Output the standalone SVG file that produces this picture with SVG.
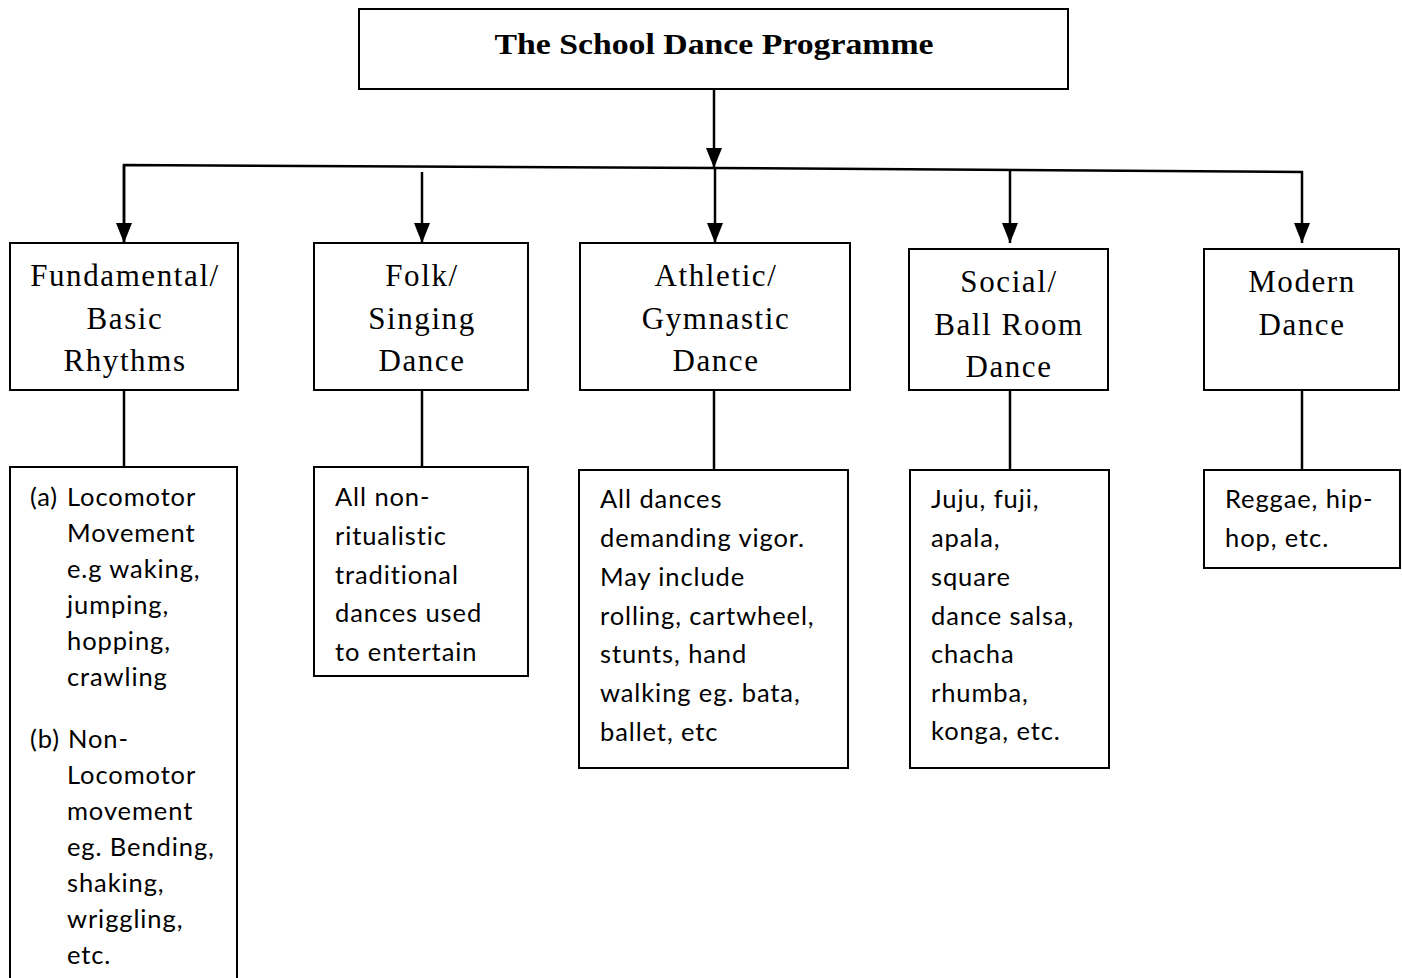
<svg xmlns="http://www.w3.org/2000/svg" width="1402" height="978" viewBox="0 0 1402 978">
<style>
.box{fill:#fff;stroke:#000;stroke-width:2}
.h{font-family:"Liberation Serif",serif;font-size:31px;letter-spacing:1.6px;text-anchor:middle;fill:#000}
.t{font-family:"Lato","Liberation Sans",sans-serif;font-size:25.5px;letter-spacing:0.9px;fill:#000}
.c{stroke:#000;stroke-width:2.5;fill:none}
</style>
<defs>
<marker id="a" viewBox="0 0 20 16" refX="20" refY="8" markerWidth="20" markerHeight="16" markerUnits="userSpaceOnUse" orient="auto">
<path d="M0,0 L20,8 L0,16 Z" fill="#000"/>
</marker>
</defs>
<rect width="1402" height="978" fill="#fff"/>
<g id="connectors">
<line class="c" x1="714" y1="89" x2="714" y2="168" marker-end="url(#a)"/>
<polyline class="c" points="124,243 124,165 714,168 1302,172 1302,243" marker-end="url(#a)"/>
<line class="c" x1="124" y1="165" x2="124" y2="243" marker-end="url(#a)"/>
<line class="c" x1="422" y1="172" x2="422" y2="243" marker-end="url(#a)"/>
<line class="c" x1="715" y1="168" x2="715" y2="243" marker-end="url(#a)"/>
<line class="c" x1="1010" y1="170" x2="1010" y2="243" marker-end="url(#a)"/>
<line class="c" x1="124" y1="390" x2="124" y2="467"/>
<line class="c" x1="422" y1="390" x2="422" y2="467"/>
<line class="c" x1="714" y1="390" x2="714" y2="470"/>
<line class="c" x1="1010" y1="390" x2="1010" y2="470"/>
<line class="c" x1="1302" y1="390" x2="1302" y2="470"/>
</g>
<g id="title">
<rect class="box" x="359" y="9" width="709" height="80"/>
<text x="714" y="54" font-family="Liberation Serif,serif" font-size="30" font-weight="bold" text-anchor="middle" textLength="439" lengthAdjust="spacingAndGlyphs">The School Dance Programme</text>
</g>
<g id="fundamental">
<rect class="box" x="10" y="243" width="228" height="147"/>
<text class="h" x="125" y="286">Fundamental/</text>
<text class="h" x="125" y="329">Basic</text>
<text class="h" x="125" y="371">Rhythms</text>
</g>
<g id="folk">
<rect class="box" x="314" y="243" width="214" height="147"/>
<text class="h" x="422" y="286">Folk/</text>
<text class="h" x="422" y="329">Singing</text>
<text class="h" x="422" y="371">Dance</text>
</g>
<g id="athletic">
<rect class="box" x="580" y="243" width="270" height="147"/>
<text class="h" x="716" y="286">Athletic/</text>
<text class="h" x="716" y="329">Gymnastic</text>
<text class="h" x="716" y="371">Dance</text>
</g>
<g id="social">
<rect class="box" x="909" y="249" width="199" height="141"/>
<text class="h" x="1009" y="292">Social/</text>
<text class="h" x="1009" y="335">Ball Room</text>
<text class="h" x="1009" y="377">Dance</text>
</g>
<g id="modern">
<rect class="box" x="1204" y="249" width="195" height="141"/>
<text class="h" x="1302" y="292">Modern</text>
<text class="h" x="1302" y="335">Dance</text>
</g>
<g id="fundamental-detail">
<rect class="box" x="10" y="467" width="227" height="520"/>
<text class="t" x="30" y="506">(a)</text>
<text class="t" x="67" y="506">Locomotor</text>
<text class="t" x="67" y="542">Movement</text>
<text class="t" x="67" y="578">e.g waking,</text>
<text class="t" x="67" y="614">jumping,</text>
<text class="t" x="67" y="650">hopping,</text>
<text class="t" x="67" y="686">crawling</text>
<text class="t" x="30" y="748">(b)</text>
<text class="t" x="68" y="748">Non-</text>
<text class="t" x="67" y="784">Locomotor</text>
<text class="t" x="67" y="820">movement</text>
<text class="t" x="67" y="856">eg. Bending,</text>
<text class="t" x="67" y="892">shaking,</text>
<text class="t" x="67" y="928">wriggling,</text>
<text class="t" x="67" y="964">etc.</text>
</g>
<g id="folk-detail">
<rect class="box" x="314" y="467" width="214" height="209"/>
<text class="t" x="335" y="506">All non-</text>
<text class="t" x="335" y="545">ritualistic</text>
<text class="t" x="335" y="584">traditional</text>
<text class="t" x="335" y="622">dances used</text>
<text class="t" x="335" y="661">to entertain</text>
</g>
<g id="athletic-detail">
<rect class="box" x="579" y="470" width="269" height="298"/>
<text class="t" x="600" y="508">All dances</text>
<text class="t" x="600" y="547">demanding vigor.</text>
<text class="t" x="600" y="586">May include</text>
<text class="t" x="600" y="625">rolling, cartwheel,</text>
<text class="t" x="600" y="663">stunts, hand</text>
<text class="t" x="600" y="702">walking eg. bata,</text>
<text class="t" x="600" y="741">ballet, etc</text>
</g>
<g id="social-detail">
<rect class="box" x="910" y="470" width="199" height="298"/>
<text class="t" x="931" y="508">Juju, fuji,</text>
<text class="t" x="931" y="547">apala,</text>
<text class="t" x="931" y="586">square</text>
<text class="t" x="931" y="625">dance salsa,</text>
<text class="t" x="931" y="663">chacha</text>
<text class="t" x="931" y="702">rhumba,</text>
<text class="t" x="931" y="740">konga, etc.</text>
</g>
<g id="modern-detail">
<rect class="box" x="1204" y="470" width="196" height="98"/>
<text class="t" x="1225" y="508">Reggae, hip-</text>
<text class="t" x="1225" y="547">hop, etc.</text>
</g>
</svg>
